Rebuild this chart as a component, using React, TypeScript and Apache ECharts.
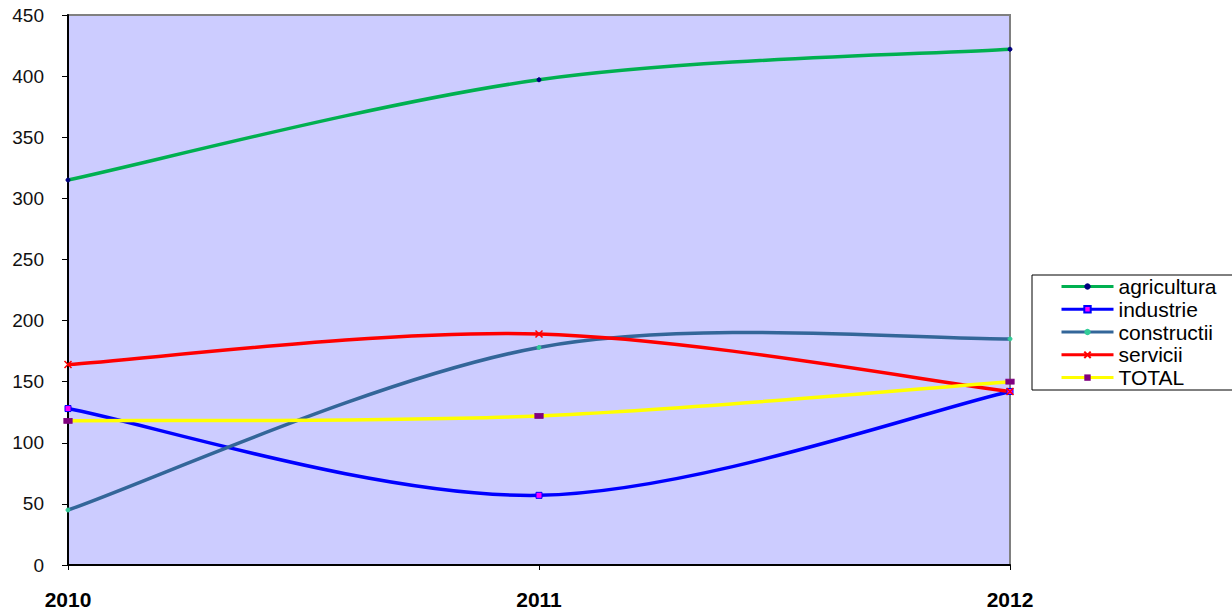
import React, { useEffect, useRef } from "react";
import * as echarts from "echarts";

const years = ["2010", "2011", "2012"];
const agricultura = [315, 397, 422];
const industrie = [128, 57, 142];
const constructii = [45, 178, 185];
const servicii = [164, 189, 142];
const total = [118, 122, 150];
const yTicks = { min: 0, max: 450, interval: 50 };

const FONT = "'Liberation Sans', Arial, sans-serif";

type Def = {
  name: string;
  data: number[];
  color: string;
  symbol: string;
  symbolSize: number | number[];
  itemStyle: any;
};

const defs: Def[] = [
  {
    name: "agricultura",
    data: agricultura,
    color: "#00B050",
    symbol: "circle",
    symbolSize: 4,
    itemStyle: { color: "#000080", borderColor: "#000080" },
  },
  {
    name: "industrie",
    data: industrie,
    color: "#0000FF",
    symbol: "rect",
    symbolSize: 6,
    itemStyle: { color: "#FF00FF", borderColor: "#0000FF", borderWidth: 1 },
  },
  {
    name: "constructii",
    data: constructii,
    color: "#336699",
    symbol: "circle",
    symbolSize: 4,
    itemStyle: { color: "#33CC99", borderColor: "#33CC99" },
  },
  {
    name: "servicii",
    data: servicii,
    color: "#FF0000",
    symbol: "path://M0,0L10,10M10,0L0,10",
    symbolSize: 7,
    itemStyle: { color: "none", borderColor: "#FF0000", borderWidth: 1.5 },
  },
  {
    name: "TOTAL",
    data: total,
    color: "#FFFF00",
    symbol: "rect",
    symbolSize: [8, 5],
    itemStyle: { color: "#800080", borderColor: "#800080" },
  },
];

function curveSeries(d: Def, z: number) {
  return {
    type: "custom",
    data: [0],
    silent: true,
    z,
    renderItem: (_params: any, api: any) => {
      const pts = d.data.map((v, i) => api.coord([i, v]));
      const n = pts.length;
      const P = (i: number) => pts[Math.max(0, Math.min(n - 1, i))];
      let path = `M${pts[0][0]},${pts[0][1]}`;
      for (let i = 0; i < n - 1; i++) {
        const p0 = P(i - 1), p1 = P(i), p2 = P(i + 1), p3 = P(i + 2);
        const c1x = p1[0] + (p2[0] - p0[0]) / 6;
        const c1y = p1[1] + (p2[1] - p0[1]) / 6;
        const c2x = p2[0] - (p3[0] - p1[0]) / 6;
        const c2y = p2[1] - (p3[1] - p1[1]) / 6;
        path += ` C${c1x},${c1y} ${c2x},${c2y} ${p2[0]},${p2[1]}`;
      }
      return {
        type: "path",
        shape: { pathData: path },
        style: { stroke: d.color, lineWidth: 3.5, fill: "none" },
      };
    },
  };
}

export default function App() {
  const ref = useRef<HTMLDivElement>(null);
  useEffect(() => {
    if (!ref.current) return;
    const chart = echarts.init(ref.current, undefined, { renderer: "svg" });
    const curves = defs.map((d, i) => curveSeries(d, 2 + i * 0.01));
    const markers = defs.map((d) => ({
      name: d.name,
      type: "line",
      data: d.data,
      symbol: d.symbol,
      symbolSize: d.symbolSize,
      showSymbol: true,
      lineStyle: { color: d.color, width: 3, opacity: 0 },
      itemStyle: d.itemStyle,
      z: 4,
    }));
    chart.setOption({
      animation: false,
      textStyle: { fontFamily: FONT },
      grid: {
        left: 68,
        right: 222,
        top: 15,
        bottom: 51,
        show: true,
        backgroundColor: "#CCCCFF",
        borderColor: "#808080",
        borderWidth: 2,
      },
      legend: {
        orient: "vertical",
        left: 1032,
        top: 275,
        padding: [0, 30, 1, 28],
        itemWidth: 52,
        itemHeight: 8,
        itemGap: 0,
        borderColor: "#000",
        borderWidth: 1,
        backgroundColor: "#fff",
        textStyle: { fontSize: 21, color: "#000", fontFamily: FONT, lineHeight: 22.8 },
        data: defs.map((d) => ({
          name: d.name,
          lineStyle: { color: d.color, width: 3, opacity: 1 },
        })),
      },
      xAxis: {
        type: "category",
        data: years,
        boundaryGap: false,
        axisLine: { lineStyle: { color: "#000", width: 2 } },
        axisTick: { show: true, length: 5, lineStyle: { color: "#000" } },
        axisLabel: {
          fontSize: 21,
          fontWeight: "bold",
          color: "#000",
          margin: 24,
          fontFamily: FONT,
        },
        splitLine: { show: false },
      },
      yAxis: {
        type: "value",
        min: yTicks.min,
        max: yTicks.max,
        interval: yTicks.interval,
        axisLine: { show: true, lineStyle: { color: "#000", width: 2 } },
        axisTick: { show: true, length: 6, lineStyle: { color: "#000" } },
        axisLabel: { fontSize: 19, color: "#111", margin: 24, fontFamily: FONT },
        splitLine: { show: false },
      },
      series: [...curves, ...markers],
    });
    return () => chart.dispose();
  }, []);
  return (
    <div
      ref={ref}
      style={{ position: "absolute", left: 0, top: 0, width: 1232, height: 616 }}
    />
  );
}
